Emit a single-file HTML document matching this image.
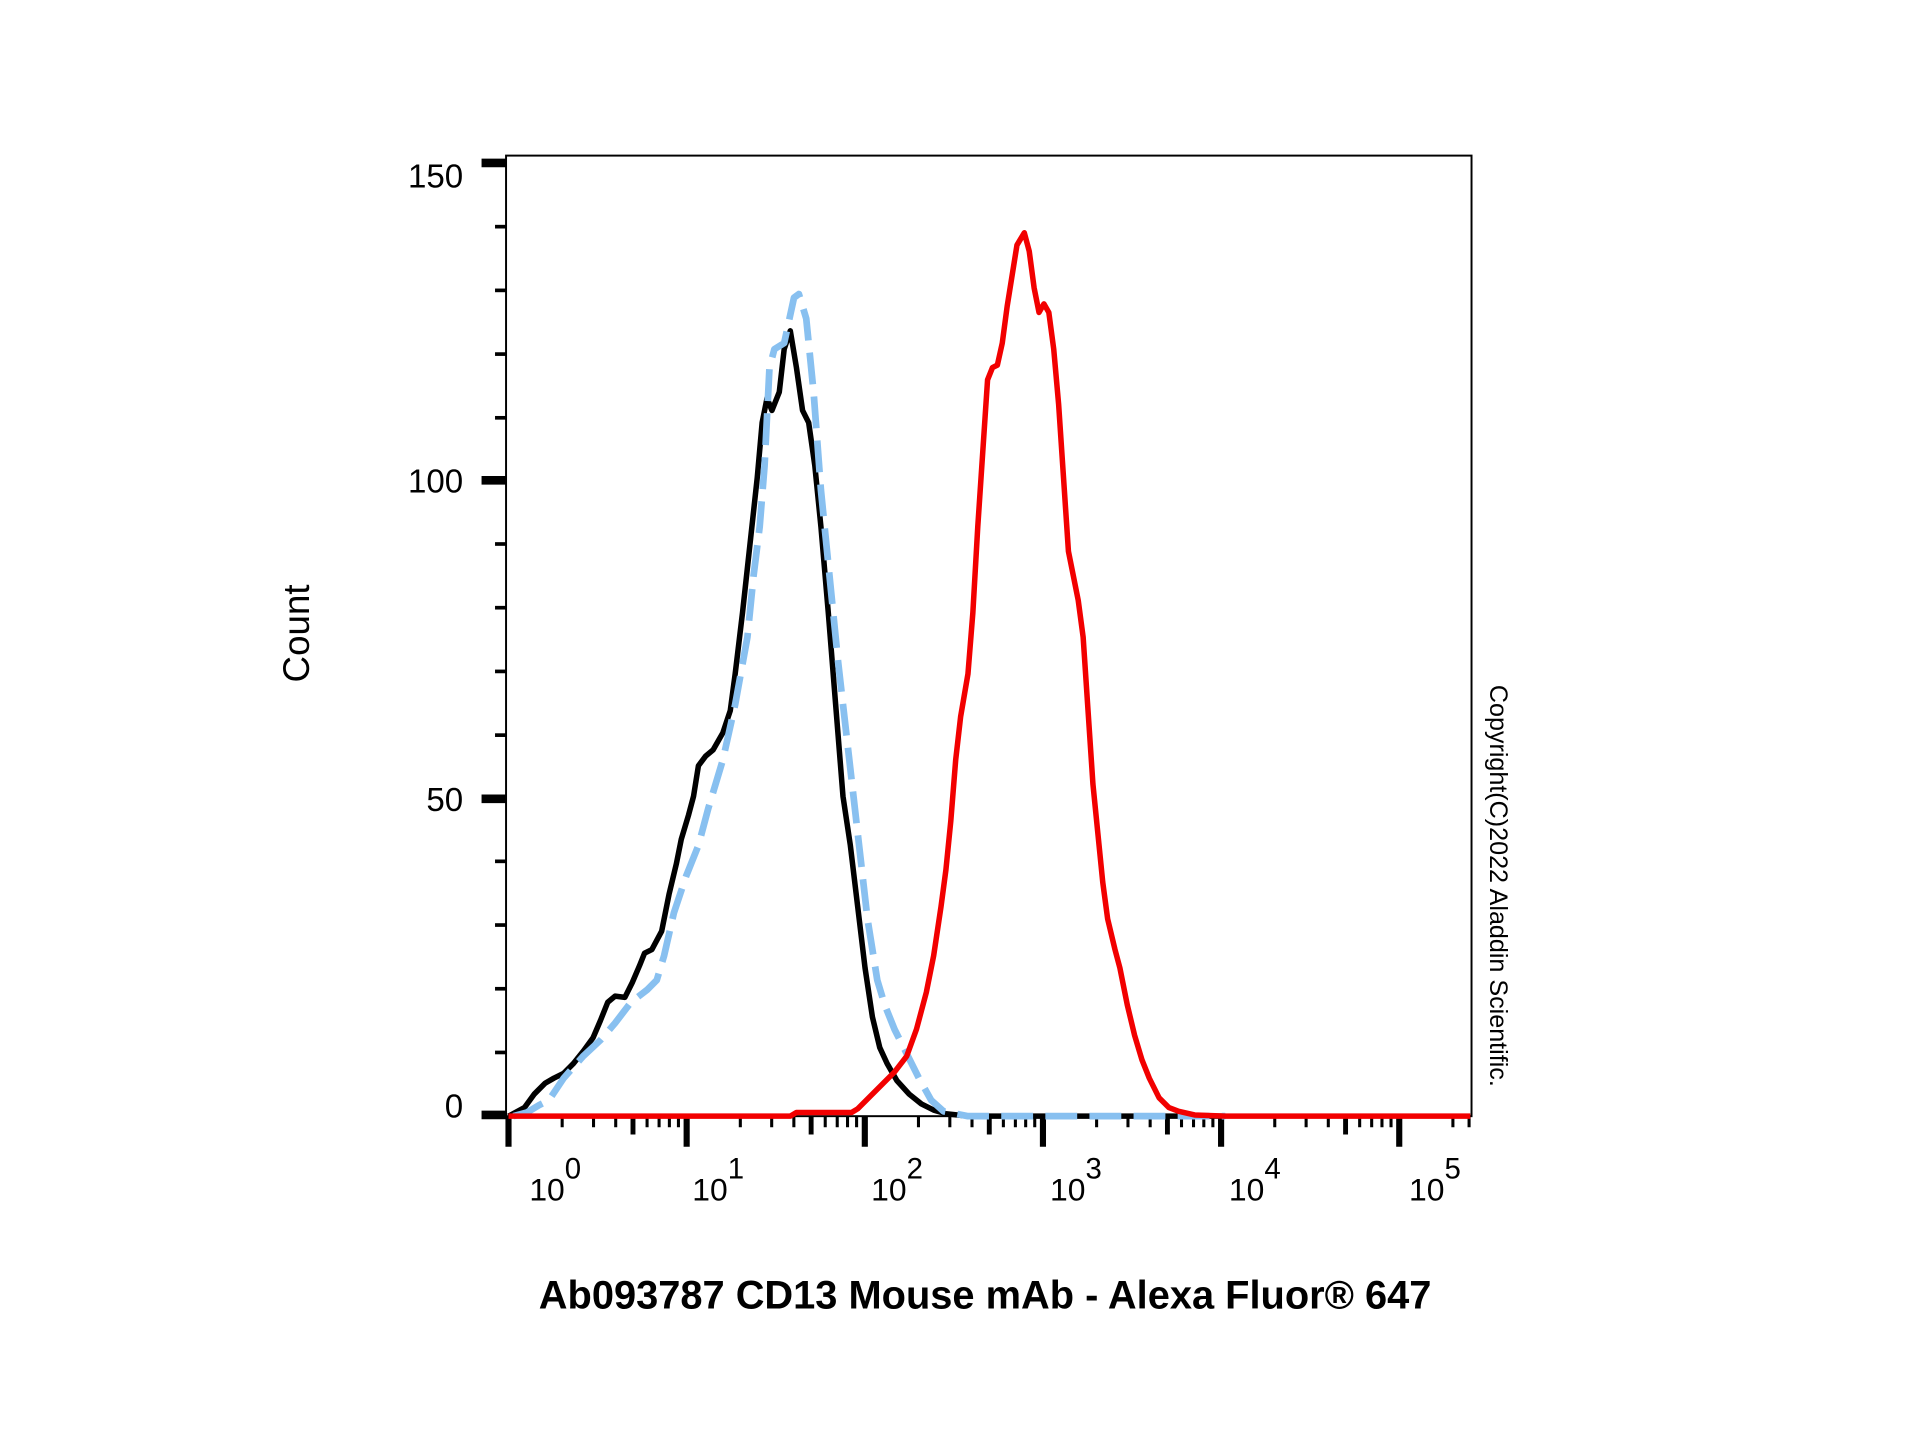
<!DOCTYPE html>
<html><head><meta charset="utf-8"><style>html,body{margin:0;padding:0;background:#fff}svg{display:block}</style></head>
<body>
<svg width="1920" height="1440" viewBox="0 0 1567 1175.3" xmlns="http://www.w3.org/2000/svg" font-family="Liberation Sans, Arial, sans-serif">
<rect x="0" y="0" width="1567" height="1176" fill="#fff"/>
<rect x="413" y="127" width="788" height="784" fill="none" stroke="#000" stroke-width="1.6"/>
<g stroke="#000">
<line x1="393" y1="133" x2="413" y2="133" stroke-width="7"/>
<line x1="393" y1="392" x2="413" y2="392" stroke-width="7"/>
<line x1="393" y1="652" x2="413" y2="652" stroke-width="7"/>
<line x1="393" y1="910" x2="413" y2="910" stroke-width="7"/>
<g stroke-width="3">
<line x1="404" y1="185" x2="413" y2="185"/><line x1="404" y1="237" x2="413" y2="237"/><line x1="404" y1="289" x2="413" y2="289"/><line x1="404" y1="341" x2="413" y2="341"/>
<line x1="404" y1="444" x2="413" y2="444"/><line x1="404" y1="496" x2="413" y2="496"/><line x1="404" y1="548" x2="413" y2="548"/><line x1="404" y1="600" x2="413" y2="600"/>
<line x1="404" y1="703" x2="413" y2="703"/><line x1="404" y1="755" x2="413" y2="755"/><line x1="404" y1="807" x2="413" y2="807"/><line x1="404" y1="859" x2="413" y2="859"/>
</g>
</g>
<g font-size="27" text-anchor="end" fill="#000">
<text x="378" y="153">150</text><text x="378" y="402">100</text><text x="378" y="662">50</text><text x="378" y="912">0</text>
</g>
<text transform="translate(252,517) rotate(-90)" font-size="30" text-anchor="middle">Count</text>
<text transform="translate(1216,723) rotate(90)" font-size="20.5" text-anchor="middle">Copyright(C)2022 Aladdin Scientific.</text>
<text x="804" y="1068" font-size="32.5" font-weight="bold" text-anchor="middle">Ab093787 CD13 Mouse mAb - Alexa Fluor® 647</text>
<g stroke="#000">
<path stroke-width="5" d="M415,911v25M560.4,911v25M705.8,911v25M851.2,911v25M996.6,911v25M1142,911v25"/>
<path stroke-width="4" d="M516.6,911v15M662,911v15M807.4,911v15M952.8,911v15M1098.2,911v15"/>
<path stroke-width="2.5" d="M458.8,911v9M484.4,911v9M502.5,911v9M528.1,911v9M537.9,911v9M546.3,911v9M553.7,911v9
M604.2,911v9M629.8,911v9M647.9,911v9M673.5,911v9M683.3,911v9M691.7,911v9M699.1,911v9
M749.6,911v9M775.2,911v9M793.3,911v9M818.9,911v9M828.7,911v9M837.1,911v9M844.5,911v9
M895,911v9M920.6,911v9M938.7,911v9M964.3,911v9M974.1,911v9M982.5,911v9M989.9,911v9
M1040.4,911v9M1066,911v9M1084.1,911v9M1109.7,911v9M1119.5,911v9M1127.9,911v9M1135.3,911v9
M1185.8,911v9M1199,911v9"/>
</g>
<g font-size="26" fill="#000">
<text x="432" y="980">10<tspan dy="-18" font-size="24">0</tspan></text>
<text x="565" y="980">10<tspan dy="-18" font-size="24">1</tspan></text>
<text x="711" y="980">10<tspan dy="-18" font-size="24">2</tspan></text>
<text x="857" y="980">10<tspan dy="-18" font-size="24">3</tspan></text>
<text x="1003" y="980">10<tspan dy="-18" font-size="24">4</tspan></text>
<text x="1150" y="980">10<tspan dy="-18" font-size="24">5</tspan></text>
</g>
<polyline fill="none" stroke="#000" stroke-width="4.5" stroke-linejoin="round" points="415,911 428,904 436,893 445,884 452,880 460,876 468,868 476,858 484,847 490,833 496,818 502,813 510,814 516,802 522,788 526,778 532,775 540,760 546,730 552,705 556,685 562,665 566,650 570,625 576,617 582,612 590,598 596,580 600,550 606,500 612,445 618,390 622,345 626,325 630,335 636,320 640,285 645,270 650,300 655,335 660,345 665,380 670,430 676,500 682,575 688,650 694,690 700,740 706,790 712,830 718,855 724,868 732,882 742,893 752,901 762,906 772,909 790,911 1000,911"/>
<polyline fill="none" stroke="#88c0f0" stroke-width="5.5" stroke-dasharray="26,10" stroke-linejoin="round" points="419,911 430,908 440,902 448,898 460,880 476,862 490,849 502,835 515,818 528,808 536,800 542,780 550,745 560,715 570,690 578,660 590,620 600,575 610,520 615,470 620,430 624,380 628,300 632,285 640,280 648,243 652,240 658,260 664,320 670,400 676,460 684,540 692,610 700,680 708,750 716,800 722,820 730,840 740,860 750,880 760,898 770,907 790,911 1000,911"/>
<polyline fill="none" stroke="#f20000" stroke-width="4.5" stroke-linejoin="round" points="415,911 645,911 650,908 695,908 700,905 710,895 720,885 730,875 740,862 748,840 756,810 762,780 768,740 772,710 776,670 780,620 784,585 790,550 794,500 798,430 802,370 806,310 810,300 814,298 818,280 822,250 826,225 830,200 836,190 840,205 844,235 848,255 852,248 856,255 860,285 864,330 868,390 872,450 876,470 880,490 884,520 888,580 892,640 896,680 900,720 904,750 910,775 914,790 920,820 926,845 932,865 938,880 946,896 954,904 962,907 975,910 1000,911 1200,911"/>
</svg>
</body></html>
